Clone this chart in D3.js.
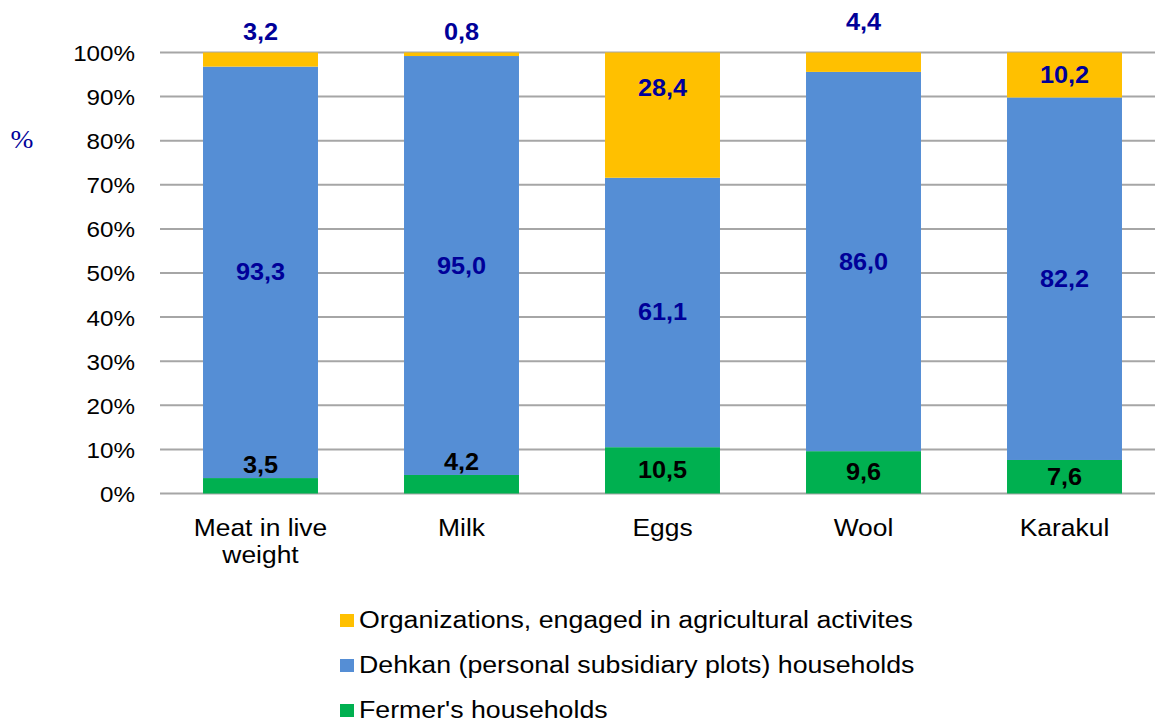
<!DOCTYPE html>
<html>
<head>
<meta charset="utf-8">
<script src="https://cdn.jsdelivr.net/npm/d3@7"></script>
<style>
  body { margin: 0; background: #fff; }
  text { font-family: "Liberation Sans", Arial, sans-serif; }
</style>
</head>
<body>
<div id="chart"></div>
<script>
// data
var categories = ["Meat in live weight", "Milk", "Eggs", "Wool", "Karakul"];
var fermers = [3.5, 4.2, 10.5, 9.6, 7.6];
var dehkan = [93.3, 95.0, 61.1, 86.0, 82.2];
var organizations = [3.2, 0.8, 28.4, 4.4, 10.2];
var yTicks = [0, 10, 20, 30, 40, 50, 60, 70, 80, 90, 100];
var seriesNames = ["Fermer's households", "Dehkan (personal subsidiary plots) households", "Organizations, engaged in agricultural activites"];
var seriesColors = ["#00B050", "#558ED5", "#FFC000"];

var width = 1155, height = 722;
var stretch = 1.1; // text in the picture looks a bit wide

var svgContainer = d3.select("#chart")
                      .append("svg")
                      .attr("width", width)
                      .attr("height", height);

var x = d3.scaleBand().domain(categories).range([160, 1165]).paddingInner(0.428).paddingOuter(0.214);
var y = d3.scaleLinear().domain([0, 100]).range([493.5, 52.5]);

//helper for wide text
function addText(px, py, str, size, anchor, fill, bold){
  return svgContainer.append("text")
    .attr("transform", "translate(" + px + "," + py + ") scale(" + stretch + ",1)")
    .attr("text-anchor", anchor)
    .attr("font-size", size)
    .attr("font-weight", bold ? "bold" : "normal")
    .attr("fill", fill)
    .text(str);
}

//gridlines
svgContainer.selectAll(".grid").data(yTicks).enter().append("line")
  .attr("x1", 160).attr("x2", width)
  .attr("y1", function(d){ return y(d); }).attr("y2", function(d){ return y(d); })
  .attr("stroke", "#a6a6a6").attr("stroke-width", 2);

//y axis labels
var yAxis = d3.axisLeft(y).tickValues(yTicks).tickSize(0).tickPadding(0).tickFormat(function(d){ return d + "%"; });
var ya = svgContainer.append("g").attr("transform", "translate(135,0)").call(yAxis);
ya.select(".domain").remove();
ya.selectAll("text").attr("font-size", 22).attr("fill", "#000")
  .attr("font-family", "Liberation Sans, Arial, sans-serif")
  .attr("dy", "0.36em").attr("transform", "scale(" + stretch + ",1)");

addText(22, 148, "%", 25, "middle", "#000099").style("font-family", "'Liberation Serif', 'Times New Roman', serif");

//stack the series
var rows = categories.map(function(c, i){ return {cat: c, f: fermers[i], d: dehkan[i], o: organizations[i]}; });
var stack = d3.stack().keys(["f", "d", "o"])(rows);

stack.forEach(function(layer, k){
  svgContainer.selectAll(".bar" + k).data(layer).enter().append("rect")
    .attr("x", function(d){ return x(d.data.cat); })
    .attr("width", x.bandwidth())
    .attr("y", function(d){ return y(d[1]); })
    .attr("height", function(d){ return y(d[0]) - y(d[1]); })
    .attr("fill", seriesColors[k]);
});

function fmt(v){ return v.toFixed(1).replace(".", ","); }

// value labels: middle of segment, or outside when the segment is thin
var topNudge = [0, 0, -27, -10, 0];
stack.forEach(function(layer, k){
  layer.forEach(function(d, i){
    var v = d[1] - d[0];
    var cy = y((d[0] + d[1]) / 2);
    if (k == 0 && v < 5) cy = y(d[1]) - 13;
    if (k == 2) cy = v < 5 ? y(100) - 21 + topNudge[i] : cy + topNudge[i];
    addText(x(d.data.cat) + x.bandwidth() / 2, cy + 8, fmt(v), 23, "middle", k == 0 ? "#000" : "#000099", true);
  });
});

//category labels
var catLines = {"Meat in live weight": ["Meat in live", "weight"]};
categories.forEach(function(c){
  var lines = catLines[c] || [c];
  lines.forEach(function(t, j){
    addText(x(c) + x.bandwidth() / 2, 536 + j * 26.5, t, 24, "middle", "#000");
  });
});

//legend, reverse order
[2, 1, 0].forEach(function(k, j){
  var ly = 628 + j * 45;
  svgContainer.append("rect").attr("x", 340).attr("y", ly - 14).attr("width", 14).attr("height", 13).attr("fill", seriesColors[k]);
  addText(359, ly, seriesNames[k], 24.3, "start", "#000");
});
</script>
</body>
</html>
